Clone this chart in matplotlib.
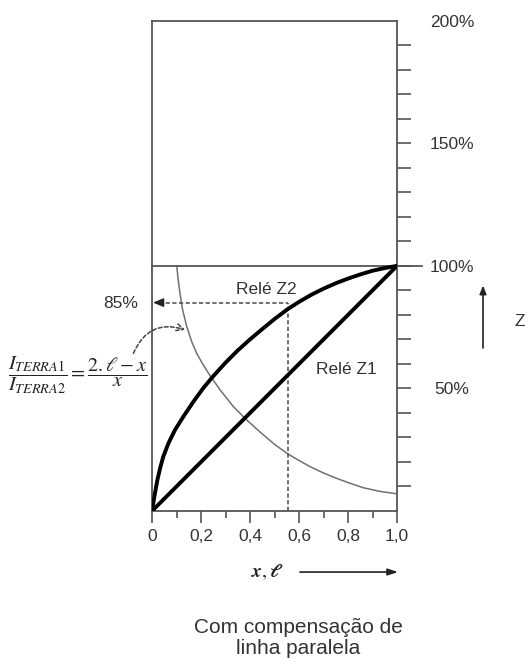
import matplotlib
matplotlib.use("Agg")
import matplotlib.pyplot as plt
from matplotlib.ticker import FixedLocator, FuncFormatter

plt.rcParams['font.family'] = ['Liberation Sans', 'DejaVu Sans']
plt.rcParams['mathtext.fontset'] = 'stix'

# ---- data (x as fraction of line length, Z in %) ----
z1_x = [0.0, 1.0]
z1_y = [0.0, 100.0]

z2_x = [0.0, 0.005, 0.012, 0.022, 0.033, 0.046, 0.067, 0.094, 0.128, 0.169,
        0.209, 0.25, 0.30, 0.35, 0.40, 0.45, 0.50, 0.556, 0.60, 0.65,
        0.70, 0.75, 0.80, 0.85, 0.90, 0.95, 1.0]
z2_y = [0.0, 3.1, 7.2, 12.7, 17.4, 22.2, 27.6, 33.1, 38.5, 44.6,
        50.1, 55.0, 60.5, 65.5, 70.0, 74.2, 78.3, 82.5, 85.3, 88.2,
        90.7, 92.9, 94.8, 96.5, 98.0, 99.1, 100.0]

ratio_x = [0.101, 0.107, 0.114, 0.125, 0.142, 0.162, 0.182, 0.209, 0.237,
           0.278, 0.332, 0.387, 0.441, 0.500, 0.556, 0.600, 0.645, 0.700,
           0.754, 0.800, 0.862, 0.930, 1.0]
ratio_y = [100.0, 94.3, 88.9, 82.0, 75.2, 69.1, 64.4, 59.6, 55.2,
           49.4, 42.6, 37.1, 32.2, 27.2, 23.2, 20.6, 18.1, 15.5,
           13.3, 11.6, 9.5, 8.0, 7.0]

x_major = [0.0, 0.2, 0.4, 0.6, 0.8, 1.0]
x_major_labels = ['0', '0,2', '0,4', '0,6', '0,8', '1,0']
x_minor = [0.1, 0.3, 0.5, 0.7, 0.9]
z_ticks = list(range(10, 201, 10))
z_labelled = [50, 100, 150, 200]

x_read = 0.555
z_read = 85.0

TXT = '#333333'
GRAY = '#555555'

fig = plt.figure(figsize=(5.28, 6.63), dpi=100)
W, H = 528, 663
left, right, top, bottom = 152, 397, 20.7, 511
ax = fig.add_axes([left / W, 1 - bottom / H, (right - left) / W, (bottom - top) / H])
ax.set_xlim(0, 1)
ax.set_ylim(0, 200)

for s in ax.spines.values():
    s.set_color(GRAY)
    s.set_linewidth(1.3)

# curves
ax.plot(z1_x, z1_y, color='black', lw=2.8, solid_capstyle='round',
        solid_joinstyle='round', zorder=4)
ax.plot(z2_x, z2_y, color='black', lw=2.8, solid_capstyle='round',
        solid_joinstyle='round', zorder=4)
ax.plot(ratio_x, ratio_y, color='#707070', lw=1.1, zorder=3)

# 100% line extended beyond the right axis
ax.plot([0, 1.10], [100, 100], color=GRAY, lw=1.3, clip_on=False, zorder=3)

# reading lines
ax.plot([x_read, x_read], [0, z_read], color=GRAY, lw=1.2, ls=(0, (2.5, 1.5)), zorder=3)
ax.plot([0.03, x_read], [z_read, z_read], color=GRAY, lw=1.2, ls=(0, (2.5, 1.5)), zorder=3)
ax.annotate('', xy=(0.004, z_read), xytext=(0.045, z_read),
            arrowprops=dict(arrowstyle='-|>,head_length=0.6,head_width=0.25',
                            color='#222222', lw=1.2, shrinkA=0, shrinkB=0))

# curved dashed arrow from the formula to the thin curve
ax.annotate('', xy=(0.135, 73.9), xytext=(-0.076, 64.3),
            arrowprops=dict(arrowstyle='->,head_length=0.5,head_width=0.25',
                            color='#444444', lw=1.1, ls=(0, (2.5, 1.5)),
                            connectionstyle='arc3,rad=-0.45', shrinkA=0, shrinkB=0),
            annotation_clip=False)

# x axis ticks
ax.xaxis.set_major_locator(FixedLocator(x_major))
ax.xaxis.set_minor_locator(FixedLocator(x_minor))
ax.set_xticklabels(x_major_labels)
ax.tick_params(axis='x', which='major', direction='out', length=8.6, width=1.2,
               color=GRAY, labelsize=12.5, labelcolor=TXT, pad=4.5)
ax.tick_params(axis='x', which='minor', direction='out', length=5, width=1.2, color=GRAY)

# right z ticks
ax.yaxis.tick_right()
ax.yaxis.set_major_locator(FixedLocator(z_ticks))
ax.yaxis.set_major_formatter(FuncFormatter(lambda v, p: f'{int(v)}%' if int(v) in z_labelled else ''))
ax.tick_params(axis='y', which='major', direction='out', length=10, width=1.2,
               color=GRAY, labelsize=12.5, labelcolor=TXT, pad=29.5)
for lab in ax.yaxis.get_ticklabels(which='major'):
    lab.set_ha('center')
for t in ax.yaxis.get_major_ticks():
    if abs(t.get_loc() - 200) < 1e-6:
        t.tick2line.set_visible(False)

# labels
ax.text(0.465, 90.2, 'Relé Z2', ha='center', va='center', fontsize=12.5, color=TXT)
ax.text(0.792, 57.6, 'Relé Z1', ha='center', va='center', fontsize=12.5, color=TXT)
ax.text(-0.057, 84.5, '85%', ha='right', va='center', fontsize=12.5, color=TXT, clip_on=False)
ax.text(1.502, 77.1, 'Z', ha='center', va='center', fontsize=12.5, color=TXT, clip_on=False)
ax.annotate('', xy=(1.351, 92.0), xytext=(1.351, 66.5), xycoords='data',
            arrowprops=dict(arrowstyle='-|>,head_length=0.5,head_width=0.2',
                            color='#222222', lw=1.2, shrinkA=0, shrinkB=0),
            annotation_clip=False)

ax.text(-0.02, 55.5,
        r'$\dfrac{I_{TERRA1}}{I_{TERRA2}}=\dfrac{2.\ell-x}{x}$',
        ha='right', va='center', fontsize=14.5, color='#222222', clip_on=False)

ax.text(0.47, -24.9, r'$\boldsymbol{x,\ell}$', ha='center', va='center', fontsize=14,
        color='#222222', clip_on=False)
ax.annotate('', xy=(1.004, -24.9), xytext=(0.604, -24.9),
            arrowprops=dict(arrowstyle='-|>,head_length=0.6,head_width=0.2',
                            color='#222222', lw=1.2, shrinkA=0, shrinkB=0),
            annotation_clip=False)

ax.text(0.598, -51.8, 'Com compensação de\nlinha paralela', ha='center', va='center',
        fontsize=15, color=TXT, linespacing=1.1, clip_on=False)

fig.savefig('out.png', dpi=100)
